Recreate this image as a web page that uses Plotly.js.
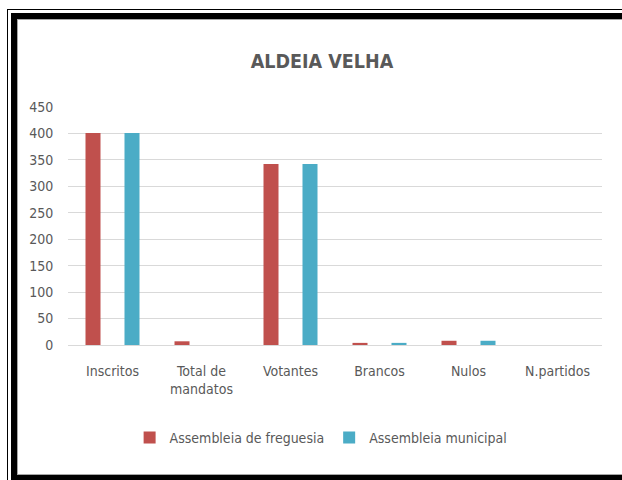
<!DOCTYPE html>
<html>
<head>
<meta charset="utf-8">
<script src="https://cdn.plot.ly/plotly-3.0.1.min.js"></script>
<style>
  html, body { margin: 0; padding: 0; background: #fff; overflow: hidden; }
  #wrap { position: relative; width: 622px; height: 480px; overflow: hidden; }
  #chart { position: absolute; left: 0; top: 0; width: 622px; height: 480px; }
  .f { position: absolute; box-sizing: border-box; pointer-events: none; }
</style>
</head>
<body>
<div id="wrap">
  <div id="chart"></div>
  <div class="f" style="left:7px; top:9px; width:900px; height:900px; border:1px solid #000;"></div>
  <div class="f" style="left:11px; top:13px; width:900px; height:468px; border:6px solid #000;"></div>
  <div class="f" style="left:17px; top:19px; width:900px; height:456px; border:1px solid #a6a6a6;"></div>
</div>
<script>
const categories = ["Inscritos", "Total de<br>mandatos", "Votantes", "Brancos", "Nulos", "N.partidos"];
const freguesia = [401, 7, 342, 4, 8, 0];
const municipal = [401, 0, 342, 4, 8, 0];
const yTicks = [0, 50, 100, 150, 200, 250, 300, 350, 400, 450];

const FONT = "'DejaVu Sans Condensed', 'Liberation Sans Narrow', sans-serif";
const TXT = "#595959";

const data = [
  { type: "bar", name: "Assembleia de freguesia", x: categories, y: freguesia,
    marker: { color: "#C0504D" }, hoverinfo: "none" },
  { type: "bar", name: "Assembleia municipal", x: categories, y: municipal,
    marker: { color: "#4BACC6" }, hoverinfo: "none" }
];

const layout = {
  width: 622, height: 480,
  margin: { l: 68, r: 20, t: 107, b: 135, pad: 0 },
  paper_bgcolor: "rgba(0,0,0,0)", plot_bgcolor: "rgba(0,0,0,0)",
  font: { family: FONT, size: 14, color: TXT },
  title: { text: "<b>ALDEIA VELHA</b>", font: { family: FONT, size: 19.5, color: TXT },
           x: 322/622, xref: "container", xanchor: "center", y: 1 - 61/480, yanchor: "middle" },
  barmode: "group", bargap: 0.124, bargroupgap: 0.615,
  showlegend: true,
  legend: { orientation: "h", x: 0.474, xanchor: "center", y: -0.39, yanchor: "middle",
            font: { family: FONT, size: 14, color: TXT }, itemwidth: 30 },
  xaxis: { type: "category", showgrid: false, zeroline: false, showline: false,
           ticks: "outside", ticklen: 13, tickcolor: "rgba(0,0,0,0)",
           tickfont: { family: FONT, size: 14, color: TXT } },
  yaxis: { range: [0, 450], tickvals: yTicks, ticktext: yTicks.map(String),
           showgrid: true, gridcolor: "#D9D9D9", gridwidth: 1,
           zeroline: true, zerolinecolor: "#D9D9D9", zerolinewidth: 1, showline: false,
           ticks: "outside", ticklen: 11, tickcolor: "rgba(0,0,0,0)",
           tickfont: { family: FONT, size: 14, color: TXT } }
};

Plotly.newPlot("chart", data, layout, { displayModeBar: false, staticPlot: true });
</script>
</body>
</html>
